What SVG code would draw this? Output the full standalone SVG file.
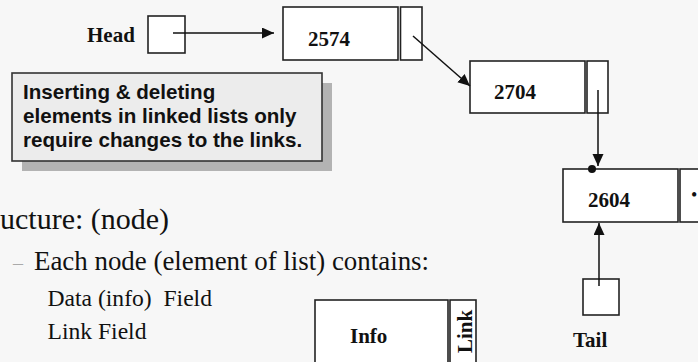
<svg xmlns="http://www.w3.org/2000/svg" width="698" height="362" viewBox="0 0 698 362">
<defs>
<style>
.bx{fill:#fff;stroke:#222;stroke-width:1.6}
.lbl{font-family:"Liberation Serif","Times New Roman",serif;font-weight:bold;font-size:21px;fill:#111}
.body{font-family:"Liberation Serif","Times New Roman",serif;fill:#111}
.call{font-family:"Liberation Sans",Arial,sans-serif;font-weight:bold;font-size:20.6px;fill:#111}
.cn{stroke:#111;stroke-width:1.5;fill:none}
</style>
<marker id="ah" markerUnits="userSpaceOnUse" markerWidth="14" markerHeight="12" refX="12" refY="5.5" orient="auto">
<path d="M0,0 L12,5.5 L0,11 Z" fill="#111"/>
</marker>
</defs>
<rect x="0" y="0" width="698" height="362" fill="#f7f7f7"/>

<g id="callout">
<rect x="22" y="83" width="310" height="88" fill="#b3b3b3"/>
<rect x="12" y="73" width="310" height="88" fill="#ececec" stroke="#333" stroke-width="1.6"/>
<text class="call" x="23" y="99">Inserting &amp; deleting</text>
<text class="call" x="23" y="123">elements in linked lists only</text>
<text class="call" x="23" y="147">require changes to the links.</text>
</g>

<g id="head">
<text class="lbl" x="87" y="42">Head</text>
<rect class="bx" x="148" y="16" width="37" height="37"/>
</g>

<g id="node2574">
<rect class="bx" x="283" y="7" width="115" height="53"/>
<rect class="bx" x="400.5" y="7" width="21.5" height="53"/>
<text class="lbl" x="308" y="46">2574</text>
</g>

<g id="node2704">
<rect class="bx" x="470" y="61" width="115" height="52"/>
<rect class="bx" x="587" y="61" width="21" height="52"/>
<text class="lbl" x="494" y="99">2704</text>
</g>

<g id="node2604">
<rect class="bx" x="563" y="169" width="115" height="53"/>
<rect class="bx" x="680" y="169" width="24" height="53"/>
<text class="lbl" x="588" y="207">2604</text>
<text class="body" x="691" y="201" font-size="18">•</text>
</g>

<g id="tail">
<rect class="bx" x="583" y="279" width="36" height="36"/>
<text class="lbl" x="573" y="347">Tail</text>
</g>

<g id="infonode">
<rect class="bx" x="315" y="300" width="133" height="70"/>
<rect class="bx" x="450" y="300" width="26" height="70"/>
<text class="lbl" x="350" y="343">Info</text>
<text class="lbl" transform="translate(472,353) rotate(-90)">Link</text>
</g>

<g id="bullets">
<text class="body" x="0" y="229" font-size="30">ucture: (node)</text>
<text class="body" x="13" y="270" font-size="20" style="fill:#aaa">–</text>
<text class="body" x="34" y="270" font-size="26.9">Each node (element of list) contains:</text>
<text class="body" x="47.5" y="306" font-size="23.6" style="white-space:pre">Data (info)  Field</text>
<text class="body" x="47.5" y="339" font-size="23.6">Link Field</text>
</g>

<g id="connectors">
<line class="cn" x1="173" y1="33" x2="274" y2="33" marker-end="url(#ah)"/>
<line class="cn" x1="413" y1="36" x2="470" y2="86" marker-end="url(#ah)"/>
<line class="cn" x1="598" y1="90" x2="598" y2="166" marker-end="url(#ah)"/>
<circle cx="592" cy="169" r="4" fill="#111"/>
<line class="cn" x1="599" y1="286" x2="599" y2="223" marker-end="url(#ah)"/>
</g>
</svg>
